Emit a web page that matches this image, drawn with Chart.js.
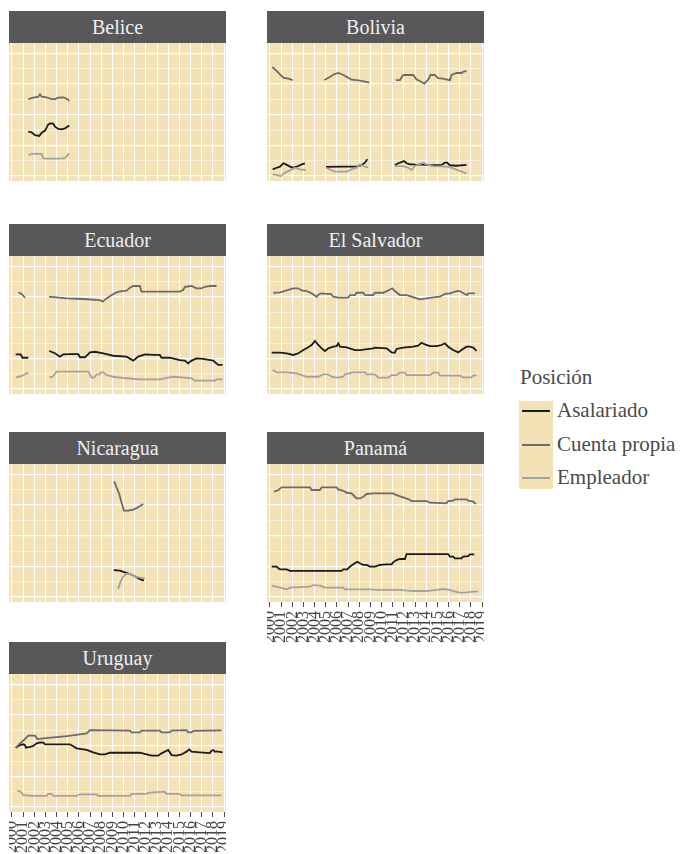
<!DOCTYPE html>
<html>
<head>
<meta charset="utf-8">
<script src="https://cdn.jsdelivr.net/npm/chart.js@4.4.1/dist/chart.umd.min.js"></script>
<style>
  body { margin: 0; background: #ffffff; font-family: "Liberation Serif", "Times New Roman", "DejaVu Serif", serif; }
  #page { position: relative; width: 680px; height: 854px; overflow: hidden; }
  .strip { position: absolute; width: 217px; height: 32px; background: #58585a; color: #efefef;
           font-size: 20px; line-height: 32px; text-align: center; }
  .panel { position: absolute; }
  .legend-title { position: absolute; left: 520px; top: 365px; font-size: 21px; color: #4a4a4a; }
  .legend-keys { position: absolute; left: 519px; top: 401px; width: 34px; height: 88px; background: #f3e2b6; }
  .legend-line { position: absolute; left: 522px; width: 28px; height: 2px; }
  .legend-label { position: absolute; left: 557px; font-size: 21px; color: #4a4a4a; line-height: 20px; }
</style>
</head>
<body>
<div id="page"></div>
<script>
const years = [2000, 2001, 2002, 2003, 2004, 2005, 2006, 2007, 2008, 2009,
  2010, 2011, 2012, 2013, 2014, 2015, 2016, 2017, 2018, 2019];
const yGrid = [0, 10, 20, 30, 40, 50, 60, 70, 80];
const positions = ["Asalariado", "Cuenta propia", "Empleador"];
const positionColors = ["#1b1b1b", "#6b6b6b", "#a2a2a2"];

// [año, valor]; null marca un hueco en la serie
const beliceAsal = [[2001.46,28.9],[2001.76,28.5],[2002.06,26.7],[2002.45,26.1],[2002.66,28.3],[2002.96,29.6],[2003.25,33.7],[2003.40,34.3],[2003.70,34.1],[2003.85,32.2],[2004.15,30.7],[2004.45,30.4],[2004.75,31.1],[2005.13,33.0]];
const beliceCuenta = [[2001.46,50.2],[2001.91,51.1],[2002.36,51.7],[2002.51,53.3],[2002.66,51.7],[2003.10,51.3],[2003.55,50.2],[2003.85,50.2],[2004.15,51.1],[2004.60,51.3],[2004.90,50.4],[2005.13,49.1]];
const beliceEmpl = [[2001.46,13.7],[2001.76,14.3],[2002.21,14.6],[2002.66,14.3],[2002.81,11.5],[2003.10,11.3],[2003.85,11.3],[2004.60,11.5],[2004.90,12.6],[2005.04,14.1],[2005.13,14.8]];

const boliviaAsal = [[2000.24,4.3],[2000.60,5.4],[2000.90,6.1],[2001.19,8.3],[2001.43,7.6],[2001.79,6.1],[2002.09,5.4],[2002.54,6.5],[2002.84,7.6],[2003.13,8.3],null,[2005.01,5.9],[2006.57,6.1],[2007.76,6.1],[2008.21,7.0],[2008.51,8.7],[2008.72,10.9],null,[2011.19,7.2],[2011.49,8.3],[2011.79,9.1],[2012.00,9.8],[2012.24,8.3],[2012.54,7.6],[2012.84,7.6],[2013.13,7.2],[2013.43,7.6],[2014.03,7.2],[2014.63,7.0],[2015.37,7.2],[2015.67,8.7],[2015.88,8.7],[2016.12,7.0],[2016.72,6.7],[2017.61,7.2]];
const boliviaCuenta = [[2000.21,71.1],[2000.75,67.4],[2001.19,64.1],[2001.64,63.5],[2002.03,62.6],null,[2004.87,62.6],[2005.37,64.6],[2005.73,66.3],[2006.12,67.2],[2006.57,65.9],[2007.01,64.1],[2007.31,62.8],[2007.76,62.6],[2008.21,62.0],[2008.90,60.9],null,[2011.28,62.6],[2011.64,62.6],[2011.94,65.9],[2012.84,65.9],[2013.13,63.0],[2013.43,62.0],[2013.82,60.2],[2014.18,62.8],[2014.39,65.9],[2014.78,65.9],[2015.07,63.9],[2015.52,63.5],[2016.12,62.4],[2016.27,65.9],[2016.72,67.2],[2017.16,67.2],[2017.31,68.0],[2017.61,68.5]];
const boliviaEmpl = [[2000.24,1.1],[2000.60,0.7],[2000.96,-0.2],[2001.34,2.2],[2001.79,3.7],[2002.24,5.4],[2002.69,4.3],[2003.22,3.9],null,[2005.01,5.4],[2005.37,4.3],[2005.82,2.8],[2006.87,2.8],[2007.31,4.3],[2007.76,5.4],[2008.06,7.6],[2008.36,6.5],[2008.81,5.4],null,[2011.19,6.5],[2011.94,6.5],[2012.39,5.4],[2012.69,3.9],[2012.99,6.5],[2013.37,7.6],[2013.73,8.7],[2014.03,7.6],[2014.63,6.5],[2015.82,6.1],[2016.42,5.0],[2017.01,3.3],[2017.61,1.7]];

const ecuadorAsal = [[2000.33,22.6],[2000.78,22.6],[2000.93,20.4],[2001.46,20.4],null,[2003.34,24.8],[2003.85,23.3],[2004.30,21.1],[2004.60,22.6],[2005.19,22.8],[2005.94,22.8],[2006.09,20.7],[2006.54,20.7],[2006.99,23.9],[2007.43,24.3],[2008.18,23.3],[2009.07,21.7],[2010.27,21.1],[2010.87,18.5],[2011.31,21.1],[2011.91,22.6],[2012.66,22.2],[2013.25,22.2],[2013.40,20.4],[2014.15,20.4],[2015.04,18.9],[2015.49,18.5],[2015.79,16.7],[2016.09,18.5],[2016.54,20.0],[2017.13,19.6],[2018.03,18.5],[2018.48,15.7],[2018.87,15.7]];
const ecuadorCuenta = [[2000.57,63.0],[2000.87,62.0],[2001.16,59.6],null,[2003.31,60.2],[2004.90,59.1],[2006.39,58.7],[2007.88,58.0],[2008.12,57.0],[2008.48,59.1],[2008.93,61.3],[2009.37,63.0],[2009.82,63.9],[2010.27,64.1],[2010.57,66.1],[2010.87,67.2],[2011.46,67.2],[2011.61,63.5],[2013.25,63.5],[2015.04,63.5],[2015.34,64.6],[2015.49,66.7],[2016.09,67.2],[2016.54,65.7],[2016.99,65.7],[2017.28,66.7],[2017.73,67.2],[2018.33,67.2]];
const ecuadorEmpl = [[2000.36,7.6],[2000.87,8.5],[2001.16,9.6],[2001.46,10.7],null,[2003.34,7.6],[2003.64,8.0],[2004.00,11.3],[2006.84,11.3],[2007.13,7.4],[2007.37,7.4],[2007.58,9.6],[2007.88,9.6],[2007.97,10.9],[2008.18,10.9],[2008.48,9.1],[2009.07,8.0],[2010.27,7.0],[2011.46,6.3],[2013.25,6.3],[2014.45,8.0],[2015.49,7.4],[2016.09,7.0],[2016.39,5.4],[2018.18,5.4],[2018.33,6.3],[2018.87,6.3]];

const salvadorAsal = [[2000.15,23.7],[2000.90,23.7],[2001.49,23.3],[2002.09,22.2],[2002.54,23.3],[2002.99,25.4],[2003.43,27.2],[2003.73,28.7],[2004.03,31.3],[2004.33,28.7],[2004.63,26.5],[2004.93,24.8],[2005.22,26.5],[2005.67,27.6],[2005.97,28.0],[2006.12,29.8],[2006.27,27.6],[2006.87,27.2],[2007.61,25.4],[2008.06,25.4],[2009.25,26.5],[2009.40,27.0],[2010.45,26.5],[2010.90,23.9],[2011.19,23.7],[2011.34,26.1],[2011.94,27.0],[2012.84,27.6],[2013.28,28.3],[2013.58,30.2],[2013.88,29.1],[2014.33,28.0],[2014.93,28.0],[2015.37,28.7],[2015.67,29.8],[2015.97,27.6],[2016.42,25.4],[2016.87,23.9],[2017.16,25.4],[2017.61,27.6],[2017.91,27.6],[2018.21,27.0],[2018.51,24.8]];
const salvadorCuenta = [[2000.30,62.8],[2000.90,63.0],[2001.49,64.3],[2002.09,65.7],[2002.54,65.7],[2002.84,64.3],[2003.28,63.9],[2003.73,62.4],[2004.18,60.2],[2004.42,62.0],[2004.63,62.4],[2005.07,62.0],[2005.46,62.0],[2005.67,60.2],[2006.12,59.6],[2007.01,59.6],[2007.16,61.3],[2007.61,61.3],[2007.76,62.8],[2008.36,62.8],[2008.51,61.3],[2009.25,61.3],[2009.40,62.8],[2010.15,62.8],[2010.60,64.3],[2010.96,65.7],[2011.19,63.9],[2011.64,61.3],[2012.24,61.3],[2012.69,60.2],[2013.43,58.5],[2014.03,59.1],[2014.63,59.8],[2015.22,60.2],[2015.67,62.0],[2016.12,62.4],[2016.72,63.9],[2017.01,63.9],[2017.46,62.0],[2017.67,61.3],[2017.76,62.4],[2018.36,62.4]];
const salvadorEmpl = [[2000.24,12.4],[2000.60,10.9],[2001.49,10.9],[2002.39,10.2],[2003.28,8.0],[2004.33,8.0],[2004.78,9.6],[2005.22,9.6],[2005.52,8.0],[2005.97,7.4],[2006.57,8.0],[2006.72,9.6],[2007.46,10.9],[2008.51,10.9],[2008.66,9.6],[2009.40,9.6],[2009.70,7.4],[2010.60,7.4],[2010.90,9.1],[2011.34,9.1],[2011.64,10.7],[2012.09,10.7],[2012.24,9.1],[2014.33,9.1],[2014.63,10.7],[2015.07,10.7],[2015.22,8.7],[2017.01,8.7],[2017.31,7.6],[2018.06,7.6],[2018.21,8.7],[2018.51,9.1]];

const nicaraguaAsal = [[2009.13,17.6],[2009.67,17.2],[2010.12,16.1],[2010.57,15.0],[2011.01,13.5],[2011.46,11.7],[2011.82,10.7]];
const nicaraguaCuenta = [[2009.16,75.4],[2009.37,71.5],[2009.61,67.2],[2009.82,61.7],[2010.03,56.3],[2010.42,56.3],[2010.87,57.0],[2011.31,58.5],[2011.76,60.7]];
const nicaraguaEmpl = [[2009.52,5.2],[2009.61,7.4],[2009.73,10.0],[2009.91,12.8],[2010.21,15.0],[2010.57,15.0],[2011.01,13.5],[2011.46,12.6],[2011.91,12.2]];

const panamaAsal = [[2000.15,19.8],[2000.60,19.8],[2000.75,18.7],[2000.90,18.0],[2001.49,18.0],[2001.79,17.0],[2006.42,17.0],[2006.57,18.0],[2006.93,18.0],[2007.16,19.8],[2007.46,21.3],[2007.82,23.0],[2008.06,22.0],[2008.36,20.9],[2008.66,20.9],[2008.96,19.8],[2009.40,19.8],[2009.85,20.9],[2010.45,21.3],[2010.90,21.3],[2011.04,22.6],[2011.34,24.1],[2011.64,24.8],[2012.09,24.8],[2012.24,28.0],[2015.97,28.0],[2016.12,26.3],[2016.42,26.3],[2016.57,25.2],[2017.16,25.2],[2017.31,26.3],[2017.76,26.7],[2017.91,27.8],[2018.30,27.8]];
const panamaCuenta = [[2000.36,68.7],[2000.75,69.8],[2001.04,71.5],[2003.58,71.5],[2003.73,69.8],[2004.48,69.8],[2004.63,71.5],[2005.97,71.5],[2006.12,70.2],[2006.57,69.3],[2006.87,68.0],[2007.31,67.6],[2007.61,65.4],[2007.76,64.3],[2008.06,64.3],[2008.36,65.4],[2008.66,67.2],[2009.25,67.6],[2011.04,67.6],[2011.34,66.5],[2011.94,65.0],[2012.39,63.9],[2012.69,62.6],[2014.03,62.6],[2014.33,61.5],[2015.82,61.1],[2015.97,62.6],[2016.42,62.8],[2016.57,63.7],[2017.61,63.7],[2017.76,62.8],[2018.21,62.2],[2018.45,60.7]];
const panamaEmpl = [[2000.15,7.4],[2000.90,6.1],[2001.49,5.0],[2001.79,6.1],[2003.58,6.7],[2003.88,7.8],[2004.48,7.4],[2004.93,6.1],[2006.57,6.1],[2006.72,5.0],[2008.96,5.0],[2009.55,4.6],[2011.64,4.6],[2012.84,3.9],[2014.03,3.9],[2014.93,4.6],[2015.52,5.2],[2016.12,4.6],[2016.42,3.9],[2017.01,2.8],[2017.61,3.0],[2018.21,3.5],[2018.66,3.5]];

const uruguayAsal = [[2000.33,38.7],[2000.72,40.4],[2001.01,40.9],[2001.16,40.4],[2001.25,38.7],[2001.61,39.3],[2001.91,39.8],[2002.21,41.5],[2002.51,42.2],[2002.81,42.0],[2002.96,40.9],[2005.19,40.9],[2005.79,38.3],[2006.69,37.2],[2007.28,35.7],[2007.88,34.3],[2008.33,34.3],[2008.78,35.4],[2011.46,35.4],[2012.51,33.5],[2013.10,33.5],[2013.40,35.0],[2014.00,37.2],[2014.30,33.9],[2014.75,33.5],[2015.19,34.3],[2015.64,36.1],[2015.88,37.6],[2016.09,36.1],[2016.84,35.7],[2017.73,35.2],[2017.88,36.7],[2018.03,37.2],[2018.18,36.1],[2018.48,36.1],[2018.87,35.7]];
const uruguayCuenta = [[2000.33,38.7],[2000.72,41.5],[2001.07,43.7],[2001.46,46.5],[2002.06,46.5],[2002.27,44.3],[2002.81,44.8],[2004.90,46.3],[2006.09,47.4],[2006.69,48.0],[2006.99,50.2],[2010.57,49.8],[2010.72,48.7],[2011.46,48.7],[2011.61,49.8],[2013.25,49.8],[2013.40,48.7],[2014.15,48.7],[2014.30,49.8],[2015.64,50.2],[2015.79,48.7],[2016.09,48.7],[2016.24,49.6],[2018.78,50.0]];
const uruguayEmpl = [[2000.48,10.7],[2000.78,10.0],[2001.01,7.8],[2001.91,7.2],[2003.10,7.2],[2003.25,8.5],[2003.55,8.5],[2003.70,7.2],[2005.79,7.2],[2006.09,8.3],[2007.58,8.3],[2007.73,7.2],[2010.57,7.2],[2010.72,8.5],[2012.06,8.5],[2012.21,9.3],[2013.70,10.0],[2013.85,8.5],[2015.04,8.5],[2015.19,7.6],[2018.78,7.6]];

const panels = [
  { name: "Belice", left: 9, top: 11, series: [beliceAsal, beliceCuenta, beliceEmpl], axis: false },
  { name: "Bolivia", left: 267, top: 11, series: [boliviaAsal, boliviaCuenta, boliviaEmpl], axis: false },
  { name: "Ecuador", left: 9, top: 224, series: [ecuadorAsal, ecuadorCuenta, ecuadorEmpl], axis: false },
  { name: "El Salvador", left: 267, top: 224, series: [salvadorAsal, salvadorCuenta, salvadorEmpl], axis: false },
  { name: "Nicaragua", left: 9, top: 432, series: [nicaraguaAsal, nicaraguaCuenta, nicaraguaEmpl], axis: false },
  { name: "Panamá", left: 267, top: 432, series: [panamaAsal, panamaCuenta, panamaEmpl], axis: true },
  { name: "Uruguay", left: 9, top: 642, series: [uruguayAsal, uruguayCuenta, uruguayEmpl], axis: true },
];

const wheat = "#f3e2b6";
const stripHeight = 32;
const panelWidth = 217;
const panelHeight = 138;
const axisHeight = 44;
const fontFamily = '"Liberation Serif", "Times New Roman", "DejaVu Serif", serif';

const panelBackground = {
  id: "panelBackground",
  beforeDraw(chart) {
    const { ctx, chartArea } = chart;
    ctx.save();
    ctx.fillStyle = wheat;
    ctx.fillRect(chartArea.left, chartArea.top, chartArea.right - chartArea.left, chartArea.bottom - chartArea.top);
    ctx.restore();
  },
};

function toPoints(pairs) {
  return pairs.map((pair, i) => {
    if (pair === null) {
      return { x: pairs[i - 1][0] + 0.01, y: null };
    }
    return { x: pair[0], y: pair[1] };
  });
}

function buildDatasets(series) {
  // Empleador first so it is drawn on top, as in the original
  return [2, 1, 0].map((i) => ({
    label: positions[i],
    data: toPoints(series[i]),
    borderColor: positionColors[i],
    borderWidth: 1.8,
    pointRadius: 0,
    tension: 0,
    spanGaps: false,
  }));
}

function panelOptions(showAxis) {
  return {
    responsive: false,
    animation: false,
    layout: { padding: 0 },
    plugins: { legend: { display: false }, tooltip: { enabled: false } },
    scales: {
      x: {
        type: "linear",
        min: 2000 - 3 / 11.16,
        max: 2019 + 2 / 11.16,
        afterBuildTicks(scale) {
          scale.ticks = years.map((value) => ({ value }));
        },
        afterFit(scale) {
          // keep the panel full width; rotated labels may hang over the edges
          scale.height = showAxis ? axisHeight : 0;
          scale.paddingLeft = 0;
          scale.paddingRight = 0;
        },
        border: { display: false },
        grid: {
          color: "#ffffff",
          lineWidth: 1,
          drawTicks: showAxis,
          tickLength: 5,
          tickColor: "#4d4d4d",
          tickWidth: 1,
        },
        ticks: {
          display: showAxis,
          autoSkip: false,
          minRotation: 90,
          maxRotation: 90,
          padding: 4,
          color: "#444444",
          font: { family: fontFamily, size: 16 },
          callback(value) {
            return String(value);
          },
        },
      },
      y: {
        min: -3.26,
        max: 86.76,
        afterBuildTicks(scale) {
          scale.ticks = yGrid.map((value) => ({ value }));
        },
        border: { display: false },
        grid: {
          drawTicks: false,
          color(context) {
            return context.tick.value % 20 === 0 ? "#ffffff" : "rgba(255, 255, 255, 0.7)";
          },
          lineWidth(context) {
            return context.tick.value % 20 === 0 ? 1.3 : 0.7;
          },
        },
        ticks: { display: false },
      },
    },
  };
}

const page = document.getElementById("page");

panels.forEach((panel) => {
  const strip = document.createElement("div");
  strip.className = "strip";
  strip.style.left = `${panel.left}px`;
  strip.style.top = `${panel.top}px`;
  strip.textContent = panel.name;
  page.appendChild(strip);

  const canvas = document.createElement("canvas");
  const height = panelHeight + (panel.axis ? axisHeight : 0);
  canvas.className = "panel";
  canvas.width = panelWidth;
  canvas.height = height;
  canvas.style.left = `${panel.left}px`;
  canvas.style.top = `${panel.top + stripHeight}px`;
  canvas.style.width = `${panelWidth}px`;
  canvas.style.height = `${height}px`;
  page.appendChild(canvas);

  new Chart(canvas, {
    type: "line",
    data: { datasets: buildDatasets(panel.series) },
    options: panelOptions(panel.axis),
    plugins: [panelBackground],
  });
});

// legend
const legendTitle = document.createElement("div");
legendTitle.className = "legend-title";
legendTitle.textContent = "Posición";
page.appendChild(legendTitle);

const legendKeys = document.createElement("div");
legendKeys.className = "legend-keys";
page.appendChild(legendKeys);

const legendRows = [411, 445, 478];
positions.forEach((label, i) => {
  const line = document.createElement("div");
  line.className = "legend-line";
  line.style.top = `${legendRows[i] - 1}px`;
  line.style.background = positionColors[i];
  page.appendChild(line);

  const text = document.createElement("div");
  text.className = "legend-label";
  text.style.top = `${legendRows[i] - 11}px`;
  text.textContent = label;
  page.appendChild(text);
});
</script>
</body>
</html>
